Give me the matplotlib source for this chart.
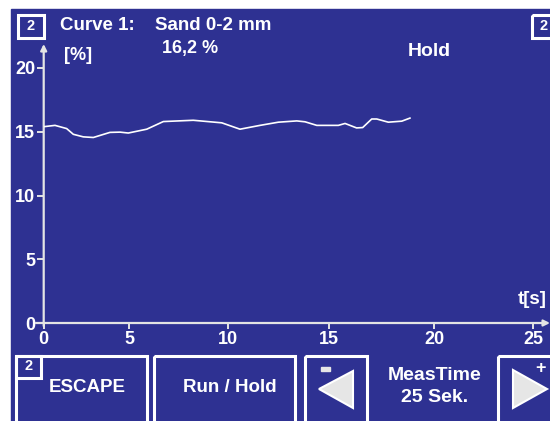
import matplotlib
matplotlib.use('Agg')
import numpy as np
from matplotlib import pyplot as plt
from matplotlib.patches import Rectangle, Polygon

# measured curve: time [s] and moisture [%]
t_sec = [0.02, 0.66, 1.34, 1.73, 2.31, 2.9, 3.87, 4.46, 4.94, 5.88, 6.72,
         8.23, 9.67, 10.58, 11.57, 12.48, 13.39, 13.8, 14.38, 15.43, 15.75,
         16.3, 16.59, 17.02, 17.26, 17.81, 18.45, 18.84]
moisture = [15.4, 15.5, 15.25, 14.8, 14.6, 14.55, 14.95, 14.97, 14.9, 15.2,
            15.8, 15.9, 15.7, 15.2, 15.5, 15.75, 15.85, 15.78, 15.5, 15.5,
            15.65, 15.3, 15.33, 16.0, 16.0, 15.75, 15.83, 16.07]
x_ticks = [0, 5, 10, 15, 20, 25]
y_ticks = [0, 5, 10, 15, 20]

BLUE = '#2e3192'
GREY = '#e6e6e6'
plt.rcParams['font.family'] = ['Liberation Sans', 'DejaVu Sans']
plt.rcParams['font.weight'] = 'bold'

W, H = 550, 421
fig = plt.figure(figsize=(W / 100, H / 100), dpi=100, facecolor='white')

# background layer in pixel coordinates
bg = fig.add_axes([0, 0, 1, 1])
bg.set_xlim(0, W)
bg.set_ylim(H, 0)
bg.axis('off')
bg.add_patch(Rectangle((11, 9), W - 11, H - 9, color=BLUE, zorder=0))


def box(x0, y0, x1, y1, lw=2.2):
    bg.add_patch(Rectangle((x0, y0), x1 - x0, y1 - y0, fill=False,
                           edgecolor='white', lw=lw, zorder=2))


def txt(x, y, s, size=13.5, ha='center'):
    bg.text(x, y, s, color='white', fontsize=size, fontweight='bold',
            ha=ha, va='center', zorder=3)


def tri(pts):
    bg.add_patch(Polygon(pts, closed=True, facecolor=GREY,
                         edgecolor='white', lw=1.5, zorder=2))


# header
box(18, 15, 44, 38)
txt(31, 26, '2', size=10.5)
box(532, 15, 556, 38)
txt(544, 26, '2', size=10.5)
txt(60, 25, 'Curve 1:', ha='left')
txt(155, 25, 'Sand 0-2 mm', ha='left')
txt(162, 49, '16,2 %', ha='left', size=13)
txt(64, 56, '[%]', ha='left', size=13)
txt(408, 51, 'Hold', ha='left', size=14)
txt(518, 300, 't[s]', ha='left')

# buttons
box(16, 356, 147, 430)
box(16, 356, 41, 378)
txt(29, 366, '2', size=10.5)
txt(87, 387, 'ESCAPE')
box(154, 356, 295, 430)
txt(230, 387, 'Run / Hold')
box(305, 356, 367, 430)
tri([(319, 389), (353, 371), (353, 408)])
bg.add_patch(Rectangle((321, 367), 9, 4, color=GREY, zorder=2))
txt(435, 375, 'MeasTime', size=14)
txt(435, 397, '25 Sek.', size=14)
box(498, 356, 560, 430)
tri([(547, 389), (513, 370), (513, 408)])
txt(540, 368, '+', size=13)

# axes arrows (pixel coordinates)
axis_col = '#e4e4e4'
arrow = dict(arrowstyle='-|>', color=axis_col, lw=1.6, mutation_scale=9,
             shrinkA=0, shrinkB=0)
bg.annotate('', xy=(43.7, 44), xytext=(43.7, 326), arrowprops=arrow)
bg.annotate('', xy=(550, 323), xytext=(36, 323), arrowprops=arrow)

# data axes; the device's time scale is not quite linear, so map it
# through the pixel positions of its own tick marks
tick_px = np.array([43.7, 129.3, 228.3, 329.3, 434.3, 533.3])


def fwd(t):
    return np.interp(t, x_ticks, tick_px)


def inv(p):
    return np.interp(p, tick_px, x_ticks)


x0, x25, y0, y20 = tick_px[0], tick_px[-1], 323, 68
ax = fig.add_axes([x0 / W, (H - y0) / H, (x25 - x0) / W, (y0 - y20) / H])
ax.patch.set_alpha(0)
ax.set_xscale('function', functions=(fwd, inv))
ax.set_xlim(0, 25)
ax.set_ylim(0, 20)
for s in ax.spines.values():
    s.set_visible(False)

ax.plot(t_sec, moisture, color='white', lw=1.2)

ax.set_xticks(x_ticks)
ax.set_xticklabels([str(v) for v in x_ticks])
ax.set_yticks(y_ticks)
ax.minorticks_off()
ax.tick_params(axis='both', colors=axis_col, width=1.4, length=5,
               labelcolor='white', labelsize=13, pad=1)
ax.tick_params(axis='x', length=4, pad=2)
for lab in ax.get_xticklabels() + ax.get_yticklabels():
    lab.set_fontweight('bold')

fig.savefig('out.png', dpi=100, facecolor='white')
